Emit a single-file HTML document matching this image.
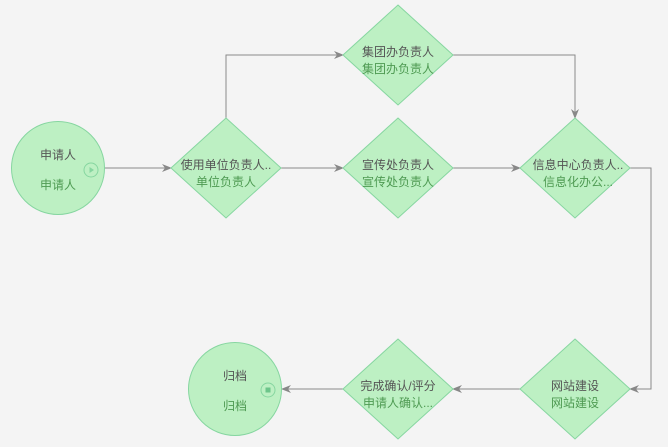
<!DOCTYPE html>
<html><head><meta charset="utf-8"><style>
html,body{margin:0;padding:0;background:#f4f4f4;}
svg{display:block;}
text{font-family:"Liberation Sans","Noto Sans CJK SC",sans-serif;font-size:12px;text-anchor:middle;}
.a{fill:#555;}
.b{fill:#4e9a52;}
</style></head><body>
<svg width="668" height="447" viewBox="0 0 668 447">
<defs><marker id="ar" markerWidth="10" markerHeight="8" refX="9" refY="4" orient="auto" markerUnits="userSpaceOnUse"><path d="M0,0 L10,4 L0,8 L3,4 Z" fill="#888"/></marker></defs>
<g fill="none" stroke="#8a8a8a" stroke-width="1" marker-end="url(#ar)">
<path d="M105,168 H171"/>
<path d="M226,118 V55 H343"/>
<path d="M281,168 H343"/>
<path d="M453,55 H575 V118"/>
<path d="M453,168 H520"/>
<path d="M630,168 H651 V389 H630"/>
<path d="M520,389 H453"/>
<path d="M343,389 H282"/>
</g>
<g fill="#bdf0c3" stroke="#86d6a0" stroke-width="1">
<circle cx="58" cy="168" r="46.5"/>
<circle cx="235" cy="389" r="46.5"/>
<path d="M226,118 L281,168 L226,218 L171,168 Z"/>
<path d="M398,5 L453,55 L398,105 L343,55 Z"/>
<path d="M398,118 L453,168 L398,218 L343,168 Z"/>
<path d="M575,118 L630,168 L575,218 L520,168 Z"/>
<path d="M575,339 L630,389 L575,439 L520,389 Z"/>
<path d="M398,339 L453,389 L398,439 L343,389 Z"/>
</g>
<circle cx="91" cy="170" r="7" fill="none" stroke="#86d6a0"/>
<path d="M89.5,167 L94,170 L89.5,173 Z" fill="#86d6a0"/>
<circle cx="268" cy="390" r="7" fill="none" stroke="#86d6a0"/>
<rect x="265.5" y="387.5" width="5" height="5" fill="#6cc58a"/>
<text class="a" x="58" y="159">申请人</text><text class="b" x="58" y="189">申请人</text>
<text class="a" x="226" y="169">使用单位负责人..</text><text class="b" x="226" y="186">单位负责人</text>
<text class="a" x="398" y="56">集团办负责人</text><text class="b" x="398" y="73">集团办负责人</text>
<text class="a" x="398" y="169">宣传处负责人</text><text class="b" x="398" y="186">宣传处负责人</text>
<text class="a" x="578" y="169">信息中心负责人..</text><text class="b" x="578" y="186">信息化办公...</text>
<text class="a" x="575" y="390">网站建设</text><text class="b" x="575" y="407">网站建设</text>
<text class="a" x="398" y="390">完成确认/评分</text><text class="b" x="398" y="407">申请人确认...</text>
<text class="a" x="235" y="380">归档</text><text class="b" x="235" y="410">归档</text>
</svg>
</body></html>
